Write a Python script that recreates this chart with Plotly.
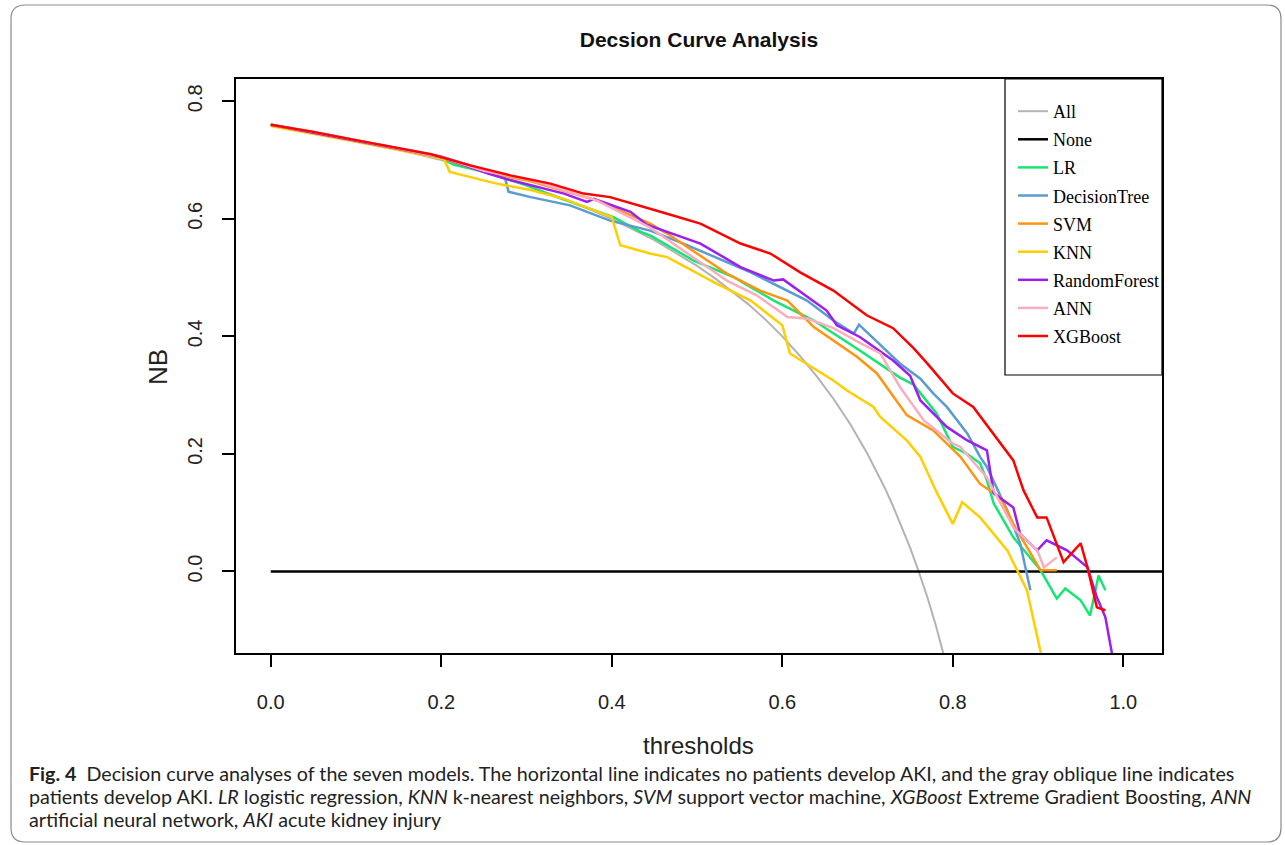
import plotly.graph_objects as go

# ---------------- data ----------------
series_names = ["All", "None", "LR", "DecisionTree", "SVM", "KNN", "RandomForest", "ANN", "XGBoost"]
series_colors = ["#B3B3B3", "#000000", "#17E573", "#5A9BD0", "#FF9410", "#FFCE00", "#9B1FF0", "#F9AEBF", "#FF0000"]

t_all = [0.0, 0.05, 0.1, 0.15, 0.2, 0.25, 0.3, 0.35, 0.4, 0.45, 0.5, 0.52, 0.54, 0.56, 0.58, 0.6, 0.62, 0.64, 0.66,
         0.68, 0.7, 0.72, 0.73, 0.74, 0.75, 0.76, 0.77, 0.78, 0.79, 0.80]
nb_all = [0.760, 0.747, 0.733, 0.718, 0.700, 0.680, 0.657, 0.631, 0.600, 0.564, 0.520, 0.500, 0.478, 0.455, 0.429, 0.400,
          0.368, 0.333, 0.294, 0.250, 0.200, 0.143, 0.111, 0.077, 0.040, 0.000, -0.043, -0.091, -0.143, -0.200]

t_none = [0.0, 1.06]
nb_none = [0.0, 0.0]

t_lr = [0.0, 0.05, 0.1, 0.15, 0.2, 0.215, 0.25, 0.3, 0.324, 0.363, 0.402, 0.434, 0.445, 0.496, 0.543, 0.59, 0.637,
        0.691, 0.719, 0.738, 0.754, 0.781, 0.80, 0.817, 0.832, 0.84, 0.848, 0.871, 0.903, 0.922, 0.932, 0.95, 0.961,
        0.971, 0.979]
nb_lr = [0.760, 0.747, 0.733, 0.719, 0.703, 0.692, 0.680, 0.657, 0.643, 0.623, 0.603, 0.578, 0.572, 0.529, 0.501, 0.461,
         0.427, 0.376, 0.348, 0.330, 0.318, 0.269, 0.212, 0.200, 0.184, 0.155, 0.116, 0.058, 0.002, -0.046, -0.029, -0.049,
         -0.075, -0.007, -0.032]

t_dt = [0.0, 0.05, 0.1, 0.15, 0.2, 0.24, 0.275, 0.279, 0.305, 0.351, 0.398, 0.445, 0.484, 0.563, 0.629, 0.66, 0.684,
        0.69, 0.738, 0.762, 0.777, 0.793, 0.809, 0.817, 0.832, 0.84, 0.864, 0.879, 0.891]
nb_dt = [0.760, 0.748, 0.734, 0.720, 0.706, 0.688, 0.668, 0.646, 0.637, 0.623, 0.597, 0.580, 0.558, 0.509, 0.461, 0.427,
         0.405, 0.420, 0.354, 0.328, 0.303, 0.280, 0.250, 0.235, 0.195, 0.178, 0.104, 0.048, -0.032]

t_svm = [0.0, 0.05, 0.1, 0.15, 0.2, 0.25, 0.305, 0.383, 0.445, 0.465, 0.535, 0.574, 0.606, 0.637, 0.66, 0.688, 0.711,
         0.746, 0.777, 0.793, 0.809, 0.832, 0.856, 0.871, 0.899, 0.903, 0.922]
nb_svm = [0.760, 0.747, 0.733, 0.719, 0.704, 0.680, 0.664, 0.631, 0.592, 0.575, 0.507, 0.478, 0.461, 0.416, 0.393, 0.365,
          0.337, 0.266, 0.240, 0.218, 0.195, 0.149, 0.126, 0.081, 0.013, 0.002, 0.002]

t_knn = [0.0, 0.05, 0.1, 0.15, 0.203, 0.21, 0.234, 0.265, 0.305, 0.344, 0.4, 0.41, 0.445, 0.465, 0.523, 0.563, 0.6,
         0.609, 0.66, 0.676, 0.707, 0.715, 0.746, 0.762, 0.781, 0.80, 0.811, 0.832, 0.864, 0.887, 0.905]
nb_knn = [0.758, 0.745, 0.731, 0.717, 0.702, 0.680, 0.671, 0.660, 0.649, 0.634, 0.603, 0.555, 0.541, 0.535, 0.490, 0.461,
          0.419, 0.371, 0.325, 0.308, 0.280, 0.263, 0.223, 0.195, 0.135, 0.081, 0.118, 0.092, 0.036, -0.032, -0.150]

t_rf = [0.0, 0.05, 0.1, 0.15, 0.2, 0.255, 0.281, 0.344, 0.371, 0.379, 0.422, 0.441, 0.504, 0.551, 0.59, 0.601, 0.652,
        0.664, 0.691, 0.73, 0.75, 0.762, 0.793, 0.817, 0.84, 0.848, 0.871, 0.879, 0.899, 0.91, 0.934, 0.958, 0.969,
        0.979, 0.988]
nb_rf = [0.760, 0.747, 0.733, 0.719, 0.705, 0.677, 0.666, 0.643, 0.629, 0.634, 0.612, 0.590, 0.558, 0.518, 0.495, 0.497,
         0.444, 0.419, 0.399, 0.359, 0.333, 0.291, 0.246, 0.223, 0.206, 0.133, 0.109, 0.064, 0.036, 0.053, 0.036, 0.007,
         -0.044, -0.078, -0.150]

t_ann = [0.0, 0.05, 0.1, 0.15, 0.2, 0.25, 0.305, 0.383, 0.445, 0.5, 0.535, 0.57, 0.606, 0.63, 0.66, 0.69, 0.715, 0.738,
         0.766, 0.80, 0.809, 0.84, 0.871, 0.899, 0.907, 0.922]
nb_ann = [0.760, 0.748, 0.734, 0.720, 0.705, 0.682, 0.666, 0.631, 0.585, 0.530, 0.495, 0.470, 0.433, 0.430, 0.414, 0.390,
          0.371, 0.314, 0.257, 0.218, 0.212, 0.160, 0.075, 0.036, 0.007, 0.024]

t_xgb = [0.0, 0.05, 0.1, 0.15, 0.188, 0.234, 0.281, 0.328, 0.367, 0.398, 0.43, 0.457, 0.504, 0.551, 0.586, 0.621, 0.66,
         0.699, 0.73, 0.754, 0.77, 0.80, 0.824, 0.856, 0.871, 0.883, 0.899, 0.91, 0.93, 0.95, 0.958, 0.969, 0.979]
nb_xgb = [0.760, 0.748, 0.734, 0.721, 0.710, 0.691, 0.674, 0.660, 0.643, 0.637, 0.623, 0.612, 0.592, 0.558, 0.541, 0.509,
          0.478, 0.436, 0.414, 0.380, 0.354, 0.303, 0.280, 0.218, 0.189, 0.138, 0.092, 0.092, 0.016, 0.048, 0.007,
          -0.061, -0.066]

series_x = [t_all, t_none, t_lr, t_dt, t_svm, t_knn, t_rf, t_ann, t_xgb]
series_y = [nb_all, nb_none, nb_lr, nb_dt, nb_svm, nb_knn, nb_rf, nb_ann, nb_xgb]
series_widths = [2.0, 2.5, 2.5, 2.5, 2.5, 2.5, 2.5, 2.5, 2.5]

x_ticks = [0.0, 0.2, 0.4, 0.6, 0.8, 1.0]
y_ticks = [0.0, 0.2, 0.4, 0.6, 0.8]

title_text = "Decsion Curve Analysis"
x_title = "thresholds"
y_title = "NB"
caption_lines = [
    "<b>Fig. 4</b>&nbsp; Decision curve analyses of the seven models. The horizontal line indicates no patients develop AKI, and the gray oblique line indicates",
    "patients develop AKI. <i>LR</i> logistic regression, <i>KNN</i> k-nearest neighbors, <i>SVM</i> support vector machine, <i>XGBoost</i> Extreme Gradient Boosting, <i>ANN</i>",
    "artificial neural network, <i>AKI</i> acute kidney injury",
]

# ---------------- layout geometry (pixels) ----------------
W, H = 1285, 845
PL, PR, PT, PB = 236, 1162, 79, 653          # plot area edges
pw, ph = PR - PL, PB - PT


def px(xp):
    return (xp - PL) / pw


def py(yp):
    return (PB - yp) / ph


fig = go.Figure()
for name, col, xs, ys, lw in zip(series_names, series_colors, series_x, series_y, series_widths):
    fig.add_trace(go.Scatter(x=xs, y=ys, mode="lines", name=name, legendgroup=name,
                             line=dict(color=col, width=lw)))

axis_common = dict(showline=True, linecolor="black", linewidth=1.5, mirror=True,
                   ticks="outside", ticklen=12, tickwidth=1.5, tickcolor="black",
                   showgrid=False, zeroline=False,
                   tickfont=dict(family="Liberation Sans, Arial", size=20, color="#222"))

fig.update_layout(
    width=W, height=H,
    margin=dict(l=PL, r=W - PR, t=PT, b=H - PB),
    paper_bgcolor="white", plot_bgcolor="white",
    xaxis=dict(range=[-0.0408, 1.0454], tickvals=x_ticks, ticktext=[f"{v:.1f}" for v in x_ticks],
               ticklabelstandoff=18, **axis_common),
    yaxis=dict(range=[-0.1387, 0.838], tickvals=y_ticks, ticktext=[f"{v:.1f}" for v in y_ticks],
               tickangle=-90, ticklabelstandoff=12, **axis_common),
    title=dict(text="<b>" + title_text + "</b>", x=px(699), xref="paper", xanchor="center",
               y=1 - 40 / H, yref="container", yanchor="middle",
               font=dict(family="Liberation Sans, Arial", size=21, color="#111")),
    showlegend=True,
    legend=dict(x=px(1013), y=py(93), xanchor="left", yanchor="top",
                bgcolor="rgba(0,0,0,0)", borderwidth=0, traceorder="grouped", tracegroupgap=1.7,
                font=dict(family="Liberation Serif, Times New Roman", size=18, color="black")),
)

# legend frame
fig.add_shape(type="rect", xref="paper", yref="paper", x0=px(1005), x1=1.0, y0=py(375), y1=1.0,
              line=dict(color="black", width=1.2), fillcolor="rgba(0,0,0,0)")

# outer rounded frame
fx0, fy0, fx1, fy1, r = 11, 5, 1281, 842, 14
path = (f"M {px(fx0 + r)},{py(fy0)} L {px(fx1 - r)},{py(fy0)} Q {px(fx1)},{py(fy0)} {px(fx1)},{py(fy0 + r)} "
        f"L {px(fx1)},{py(fy1 - r)} Q {px(fx1)},{py(fy1)} {px(fx1 - r)},{py(fy1)} "
        f"L {px(fx0 + r)},{py(fy1)} Q {px(fx0)},{py(fy1)} {px(fx0)},{py(fy1 - r)} "
        f"L {px(fx0)},{py(fy0 + r)} Q {px(fx0)},{py(fy0)} {px(fx0 + r)},{py(fy0)} Z")
fig.add_shape(type="path", xref="paper", yref="paper", path=path, line=dict(color="#8a8a8a", width=1.2))

# axis titles
fig.add_annotation(text=x_title, xref="paper", yref="paper", x=px(698), y=py(745), showarrow=False,
                   xanchor="center", yanchor="middle", font=dict(family="Liberation Sans, Arial", size=24, color="#222"))
fig.add_annotation(text=y_title, xref="paper", yref="paper", x=px(158), y=py(367), showarrow=False, textangle=-90,
                   xanchor="center", yanchor="middle", font=dict(family="Liberation Sans, Arial", size=26, color="#222"))

# caption
for i, line in enumerate(caption_lines):
    fig.add_annotation(text=line, xref="paper", yref="paper", x=px(27), y=py(773 + 23 * i), showarrow=False,
                       xanchor="left", yanchor="middle", align="left",
                       font=dict(family="Lato, Open Sans", size=19.7, color="#222"))

fig.write_html("out.html")
